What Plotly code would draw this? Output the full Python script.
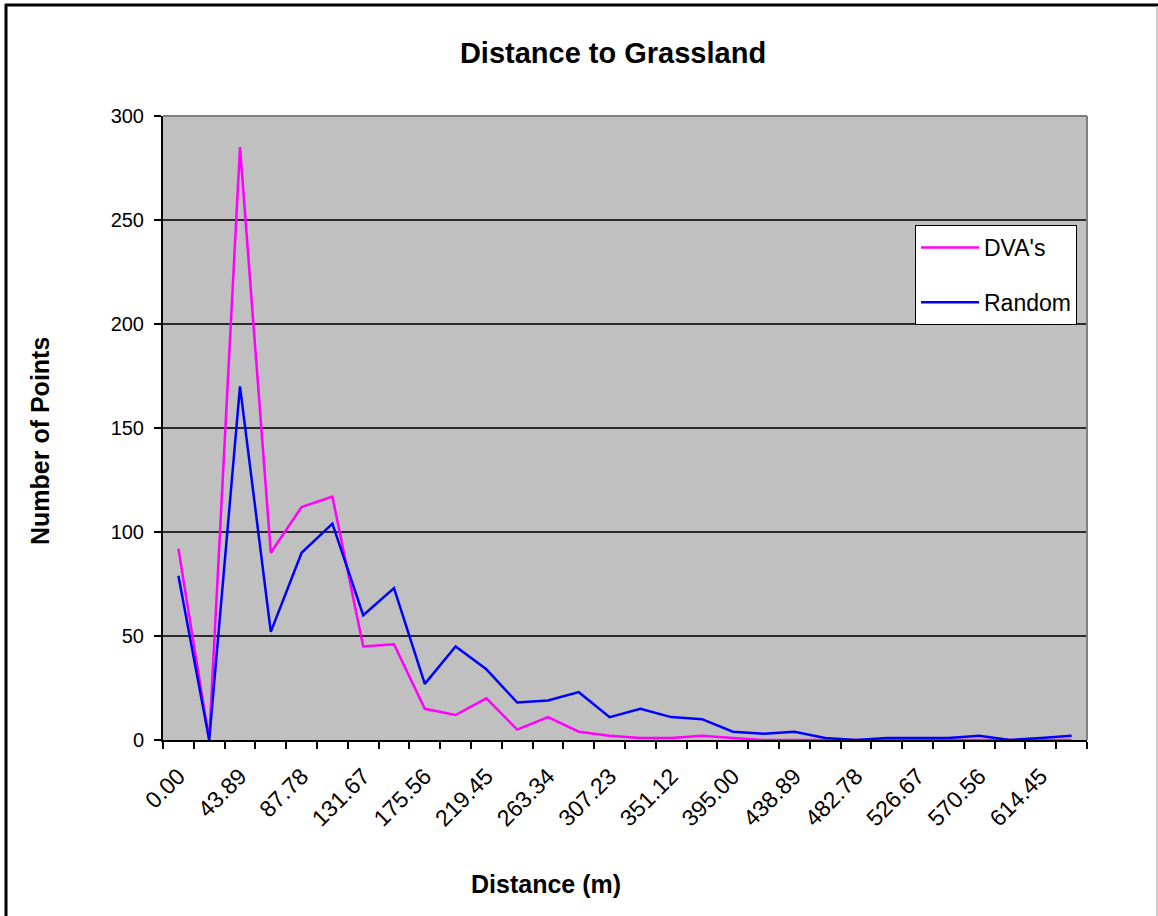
import plotly.graph_objects as go

# ---- data ----
distance_labels = [
    "0.00", "21.94", "43.89", "65.83", "87.78", "109.72", "131.67", "153.61",
    "175.56", "197.50", "219.45", "241.39", "263.34", "285.28", "307.23", "329.17",
    "351.12", "373.06", "395.00", "416.95", "438.89", "460.84", "482.78", "504.73",
    "526.67", "548.62", "570.56", "592.51", "614.45", "636.40",
]
dva_counts = [92, 0, 285, 90, 112, 117, 45, 46, 15, 12, 20, 5, 11, 4, 2, 1, 1, 2, 1, 0,
              0, 0, 0, 0, 0, 0, 0, 0, 0, 0]
random_counts = [79, 0, 170, 52, 90, 104, 60, 73, 27, 45, 34, 18, 19, 23, 11, 15, 11, 10, 4, 3,
                 4, 1, 0, 1, 1, 1, 2, 0, 1, 2]
series_names = ["DVA's", "Random"]
series_colors = ["#FF00FF", "#0000FF"]
y_ticks = [0, 50, 100, 150, 200, 250, 300]

FONT = "Liberation Sans, Arial, sans-serif"

fig = go.Figure()
for name, vals, col in zip(series_names, [dva_counts, random_counts], series_colors):
    fig.add_trace(go.Scatter(
        x=distance_labels, y=vals, mode="lines", name=name,
        legendgroup=name,
        line=dict(color=col, width=2.5),
    ))

# show label on every other category, ticks at every boundary
ticktext = [lab if i % 2 == 0 else "" for i, lab in enumerate(distance_labels)]

W, H = 1158, 916
L, R, T, B = 163, 1087, 116, 740
pw, ph = R - L, B - T

def px(xp):
    return (xp - L) / pw

def py(yp):
    return (B - yp) / ph

fig.update_layout(
    width=W, height=H,
    margin=dict(l=L, r=W - R, t=T, b=H - B, autoexpand=False),
    paper_bgcolor="white",
    plot_bgcolor="#C0C0C0",
    font=dict(family=FONT, color="black"),
    title=dict(text="<b>Distance to Grassland</b>", x=613 / W, xref="container", xanchor="center",
               y=1 - 53 / H, yref="container", yanchor="middle",
               font=dict(size=29, family=FONT, color="black")),
    xaxis=dict(
        type="category", categoryorder="array", categoryarray=distance_labels,
        range=[-0.5, len(distance_labels) - 0.5],
        tickmode="array", tickvals=distance_labels, ticktext=ticktext,
        tickson="boundaries",
        ticks="outside", ticklen=7, tickwidth=1.5, tickcolor="black",
        tickangle=-45, tickfont=dict(size=23, family=FONT, color="black"),
        ticklabelstandoff=12,
        showline=True, linecolor="black", linewidth=1.5,
        showgrid=False, zeroline=False,
    ),
    yaxis=dict(
        range=[0, 300], tickmode="array", tickvals=y_ticks,
        ticks="outside", ticklen=7, tickwidth=1.5, tickcolor="black",
        tickfont=dict(size=20, family=FONT, color="black"),
        ticklabelstandoff=6,
        showline=True, linecolor="black", linewidth=2,
        showgrid=True, gridcolor="#2a2a2a", gridwidth=1.5,
        zeroline=False,
    ),
    legend=dict(
        x=px(915), y=py(225), xanchor="left", yanchor="top",
        bgcolor="white", bordercolor="black", borderwidth=1,
        font=dict(size=23, family=FONT, color="black"),
        traceorder="grouped", tracegroupgap=22,
        itemwidth=58,
    ),
    showlegend=True,
    annotations=[
        dict(text="<b>Distance (m)</b>", xref="paper", yref="paper",
             x=px(546), y=py(884), xanchor="center", yanchor="middle",
             showarrow=False, font=dict(size=25, family=FONT, color="black")),
        dict(text="<b>Number of Points</b>", xref="paper", yref="paper",
             x=px(40), y=py(441), xanchor="center", yanchor="middle", textangle=-90,
             showarrow=False, font=dict(size=25, family=FONT, color="black")),
    ],
    shapes=[
        # plot area border (top/right gray)
        dict(type="line", xref="paper", yref="paper", x0=0, x1=1, y0=1, y1=1,
             line=dict(color="#808080", width=2), layer="above"),
        dict(type="line", xref="paper", yref="paper", x0=1, x1=1, y0=0, y1=1,
             line=dict(color="#808080", width=2), layer="above"),
        # outer frame
        dict(type="line", xref="paper", yref="paper", x0=px(5), x1=px(1158), y0=py(5), y1=py(5),
             line=dict(color="black", width=3)),
        dict(type="line", xref="paper", yref="paper", x0=px(6), x1=px(6), y0=py(4), y1=py(916),
             line=dict(color="black", width=3)),
        dict(type="line", xref="paper", yref="paper", x0=px(1157), x1=px(1157), y0=py(6), y1=py(916),
             line=dict(color="#BBBBBB", width=1.5)),
    ],
)

fig.write_html("out.html", config={"displayModeBar": False},
               post_script="document.body.style.margin='0';document.body.style.overflow='hidden';")
